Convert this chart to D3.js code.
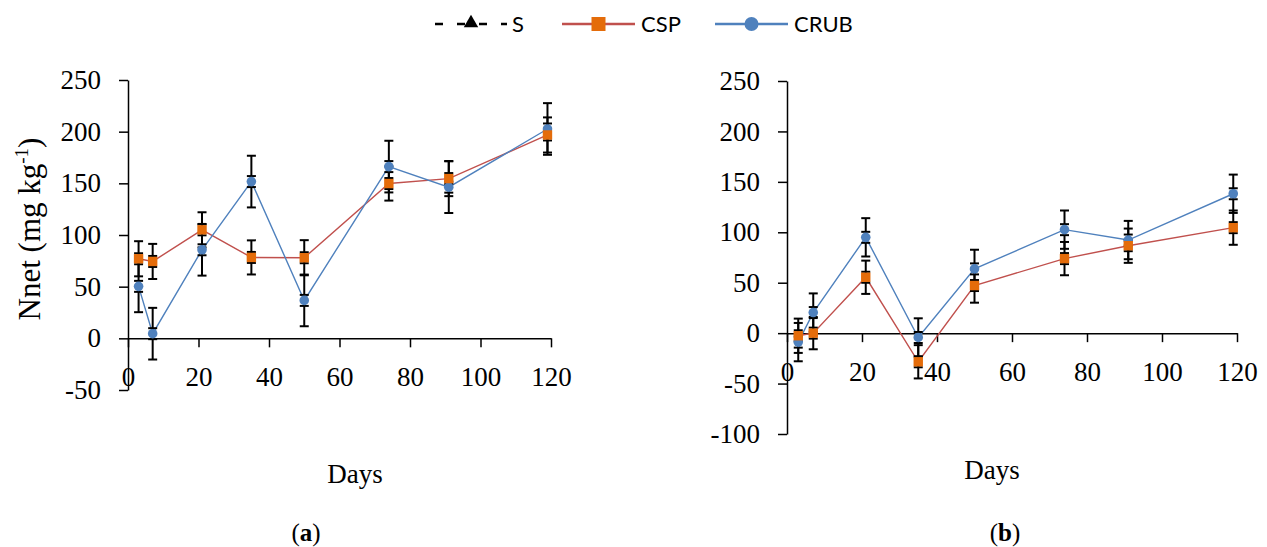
<!DOCTYPE html>
<html>
<head>
<meta charset="utf-8">
<script src="https://cdn.jsdelivr.net/npm/d3@7"></script>
<style>
  body { margin: 0; background: #fff; }
  svg { display: block; }
  .tick text { font-family: "Liberation Serif", serif; font-size: 27px; fill: #000; }
  .tick line, .domain { stroke: #000; stroke-width: 1.5px; }
</style>
</head>
<body>
<div id="container"></div>
<script>
// sampling days (same for both panels)
const days = [3, 7, 21, 35, 50, 74, 91, 119];

// panel (a)
const cspA = [77, 74.4, 105, 78.3, 78, 149.8, 154.6, 196.8];
const cspAErr = [17, 17, 17, 16.5, 17, 16.5, 17, 17];
const crubA = [50.3, 4.5, 85.7, 151.7, 36.7, 166.2, 146.3, 202.6];
const crubAErr = [25, 25, 25, 25, 25, 25, 25, 25];

// panel (b)
const cspB = [-2.6, 0, 55.4, -28.4, 47.2, 73.9, 86.7, 104.6];
const cspBErr = [17, 16, 16.5, 16.5, 17, 16.5, 17, 17];
const crubB = [-8.9, 20.4, 95, -4.3, 63.7, 102.6, 92.3, 138.2];
const crubBErr = [19, 19, 19, 19, 19, 19, 19, 19];

const xTicks = [0, 20, 40, 60, 80, 100, 120];
const yTicksA = [-50, 0, 50, 100, 150, 200, 250];
const yTicksB = [-100, -50, 0, 50, 100, 150, 200, 250];

const seriesNames = ["S", "CSP", "CRUB"];

const W = 1267, H = 547;
const svg = d3.select("#container").append("svg")
  .attr("width", W).attr("height", H);
svg.append("rect").attr("width", W).attr("height", H).attr("fill", "#fff");

const RED = "#C0504D", ORANGE = "#E46C0A", BLUE = "#4F81BD";

function panel(cfg) {
  const x = d3.scaleLinear().domain([0, 120]).range(cfg.xRange);
  const y = d3.scaleLinear().domain(cfg.yDomain).range(cfg.yRange);
  const g = svg.append("g");

  g.append("g")
    .attr("transform", "translate(" + cfg.xRange[0] + ",0)")
    .call(d3.axisLeft(y).tickValues(cfg.yTicks).tickSize(9).tickSizeOuter(0)
      .tickPadding(18).tickFormat(d => String(d)));

  g.append("g")
    .attr("transform", "translate(0," + y(0) + ")")
    .call(d3.axisBottom(x).tickValues(xTicks).tickSize(9).tickSizeOuter(0)
      .tickPadding(20).tickFormat(d => String(d)));

  const series = [
    { vals: cfg.csp, err: cfg.cspErr, color: RED },
    { vals: cfg.crub, err: cfg.crubErr, color: BLUE }
  ];

  const line = d3.line().x((d, i) => x(days[i])).y(d => y(d));

  series.forEach(s => {
    g.append("path").datum(s.vals)
      .attr("d", line).attr("fill", "none")
      .attr("stroke", s.color).attr("stroke-width", 1.4);
  });

  // error bars (plus the short caps hugging each marker)
  series.forEach(s => {
    const eb = g.append("g").attr("stroke", "#000").attr("stroke-width", 2);
    s.vals.forEach((v, i) => {
      const cx = x(days[i]);
      const lo = y(v - s.err[i]), hi = y(v + s.err[i]);
      eb.append("line").attr("x1", cx).attr("x2", cx).attr("y1", lo).attr("y2", hi);
      [lo, hi, y(v) - 5.5, y(v) + 5.5].forEach(yy => {
        eb.append("line").attr("x1", cx - 4.5).attr("x2", cx + 4.5)
          .attr("y1", yy).attr("y2", yy);
      });
    });
  });

  // markers: blue first, orange on top
  g.selectAll(".crub").data(cfg.crub).enter().append("circle")
    .attr("cx", (d, i) => x(days[i])).attr("cy", d => y(d))
    .attr("r", 4.8).attr("fill", BLUE);
  g.selectAll(".csp").data(cfg.csp).enter().append("rect")
    .attr("x", (d, i) => x(days[i]) - 4.7).attr("y", d => y(d) - 4.7)
    .attr("width", 9.4).attr("height", 9.4).attr("fill", ORANGE);

  svg.append("text").attr("x", cfg.daysPos[0]).attr("y", cfg.daysPos[1])
    .attr("text-anchor", "middle").attr("font-family", "Liberation Serif, serif")
    .attr("font-size", 27).text("Days");

  const lab = svg.append("text").attr("x", cfg.labPos[0]).attr("y", cfg.labPos[1])
    .attr("text-anchor", "middle").attr("font-family", "Liberation Serif, serif")
    .attr("font-size", 25);
  lab.append("tspan").text("(");
  lab.append("tspan").attr("font-weight", "bold").text(cfg.letter);
  lab.append("tspan").text(")");
}

panel({
  xRange: [128, 551], yDomain: [-50, 250], yRange: [390, 80], yTicks: yTicksA,
  csp: cspA, cspErr: cspAErr, crub: crubA, crubErr: crubAErr,
  daysPos: [355, 483], labPos: [306, 541], letter: "a"
});

panel({
  xRange: [787, 1237], yDomain: [-100, 250], yRange: [434, 81], yTicks: yTicksB,
  csp: cspB, cspErr: cspBErr, crub: crubB, crubErr: crubBErr,
  daysPos: [992, 479], labPos: [1005, 541], letter: "b"
});

// y axis title (panel a only)
const yt = svg.append("text")
  .attr("transform", "translate(40,229) rotate(-90)")
  .attr("text-anchor", "middle")
  .attr("font-family", "Liberation Serif, serif").attr("font-size", 31);
yt.append("tspan").text("Nnet (mg kg");
yt.append("tspan").attr("font-size", 19).attr("dy", -12).text("-1");
yt.append("tspan").attr("dy", 12).text(")");

// legend
const legend = svg.append("g").attr("font-family", "Lato, sans-serif").attr("font-size", 22);
const legY = 24;
const legItems = [
  { name: seriesNames[0], x0: 435, x1: 507, tx: 512 },
  { name: seriesNames[1], x0: 562, x1: 635, tx: 641 },
  { name: seriesNames[2], x0: 715, x1: 788, tx: 794 }
];
legItems.forEach((it, i) => {
  const mid = (it.x0 + it.x1) / 2;
  const ln = legend.append("line").attr("x1", it.x0).attr("x2", it.x1)
    .attr("y1", legY).attr("y2", legY);
  if (i === 0) {
    ln.attr("stroke", "#000").attr("stroke-width", 2.5).attr("stroke-dasharray", "8,14");
    legend.append("path").attr("d", d3.symbol(d3.symbolTriangle, 90)())
      .attr("transform", "translate(" + mid + "," + (legY - 1) + ")").attr("fill", "#000");
  } else if (i === 1) {
    ln.attr("stroke", RED).attr("stroke-width", 2.5);
    legend.append("rect").attr("x", mid - 7).attr("y", legY - 7)
      .attr("width", 14).attr("height", 14).attr("fill", ORANGE);
  } else {
    ln.attr("stroke", BLUE).attr("stroke-width", 2.5);
    legend.append("circle").attr("cx", mid).attr("cy", legY).attr("r", 7).attr("fill", BLUE);
  }
  legend.append("text").attr("x", it.tx).attr("y", legY).attr("dy", "0.35em").text(it.name);
});
</script>
</body>
</html>
